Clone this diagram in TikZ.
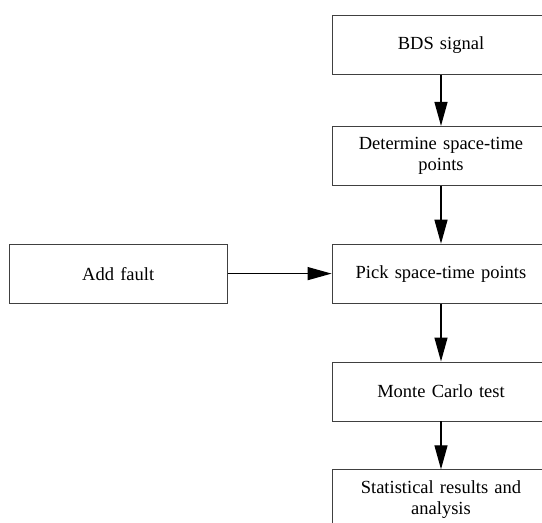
\documentclass[tikz,border=0pt]{standalone}
\usepackage{fontspec}
\setmainfont{Liberation Serif}
\usetikzlibrary{positioning, arrows.meta}

\begin{document}
\begin{tikzpicture}[x=1pt, y=1pt, font=\fontsize{18.5}{21}\selectfont, b/.style={rectangle, draw=black!75, line width=.8pt, minimum width=218pt, minimum height=59pt, text width=200pt, align=center, inner sep=0pt}, a/.style={-{Triangle[length=24pt, width=13pt]}, line width=1.3pt}]
		\useasboundingbox (0,0) rectangle (542,-523);
		\node[b] (BDS) at (441,-45) {BDS signal};
		\node[b, below=51pt of BDS] (Det) {Determine space-time\\points};
		\node[b, below=58pt of Det] (Pick) {Pick space-time points};
		\node[b, left=104pt of Pick] (Fault) {Add fault};
		\node[b, below=58pt of Pick] (MC) {Monte Carlo test};
		\node[b, below=48pt of MC] (Stat) {Statistical results and\\analysis};


		\path[a] (BDS) edge (Det);
		\path[a] (Det) edge (Pick);
		\path[a] (Fault) edge (Pick);
		\path[a] (Pick) edge (MC);
		\path[a] (MC) edge (Stat);
	\end{tikzpicture}
\end{document}
